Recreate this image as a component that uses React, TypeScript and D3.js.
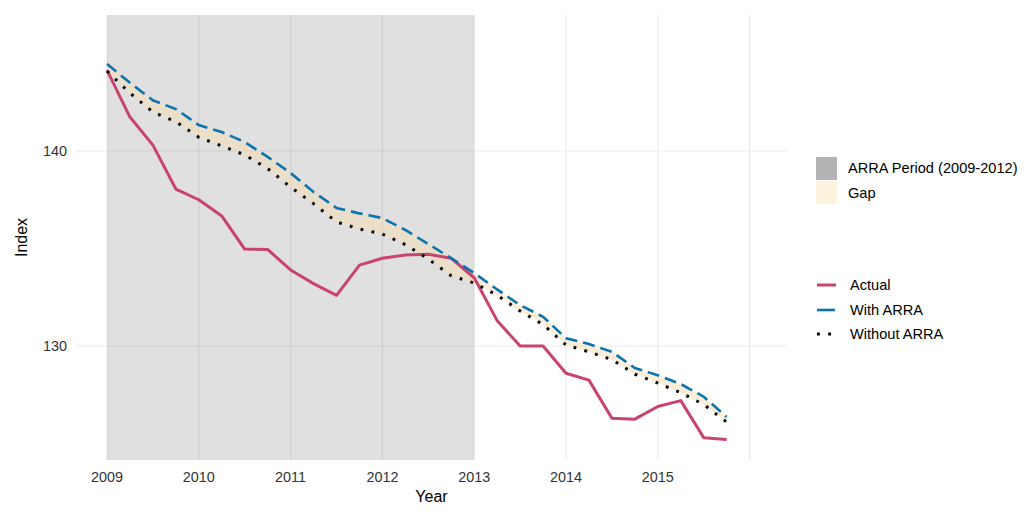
import React from "react";
import * as d3 from "d3";

const quarters: number[] = [
  2009, 2009.25, 2009.5, 2009.75, 2010, 2010.25, 2010.5, 2010.75,
  2011, 2011.25, 2011.5, 2011.75, 2012, 2012.25, 2012.5, 2012.75,
  2013, 2013.25, 2013.5, 2013.75, 2014, 2014.25, 2014.5, 2014.75,
  2015, 2015.25, 2015.5, 2015.75,
];
const actual: number[] = [
  144.15, 141.74, 140.3, 138.05, 137.5, 136.67, 134.97, 134.95,
  133.9, 133.2, 132.6, 134.15, 134.5, 134.67, 134.7, 134.5,
  133.5, 131.3, 130.0, 130.0, 128.6, 128.25, 126.3, 126.25,
  126.9, 127.2, 125.3, 125.2,
];
const withArra: number[] = [
  144.46, 143.5, 142.6, 142.15, 141.33, 140.97, 140.46, 139.7,
  138.87, 137.9, 137.08, 136.8, 136.56, 135.95, 135.23, 134.5,
  133.74, 132.9, 132.1, 131.5, 130.4, 130.1, 129.7, 128.87,
  128.5, 128.05, 127.4, 126.36,
];
const withoutArra: number[] = [
  144.1, 142.97, 142.0, 141.5, 140.7, 140.26, 139.8, 139.1,
  138.15, 137.3, 136.36, 136.0, 135.74, 135.2, 134.46, 133.6,
  133.23, 132.6, 131.8, 131.1, 130.05, 129.7, 129.3, 128.56,
  128.1, 127.6, 127.0, 126.1,
];
const xTicks: number[] = [2009, 2010, 2011, 2012, 2013, 2014, 2015];
const xGrid: number[] = [2009, 2010, 2011, 2012, 2013, 2014, 2015, 2016];
const yTicks: number[] = [130, 140];
const arraPeriod: number[] = [2009, 2013];

const FONT = "'Liberation Sans', Arial, Helvetica, sans-serif";

export default function App() {
  const W = 1024, H = 513;
  const left = 76, right = 787, top = 15, bottom = 460;
  const x = d3.scaleLinear().domain([2008.6623, 2016.4074]).range([left, right]);
  const y = d3.scaleLinear().domain([124.154, 146.974]).range([bottom, top]);

  const idx = quarters.map((_, i) => i);
  const lineGen = (vals: number[]) =>
    d3.line<number>().x((i) => x(quarters[i])).y((i) => y(vals[i]))(idx) || "";
  const ribbon =
    d3
      .area<number>()
      .x((i) => x(quarters[i]))
      .y0((i) => y(withoutArra[i]))
      .y1((i) => y(withArra[i]))(idx) || "";

  const gridColor = "#ebebeb";
  const red = "#C8436E";
  const blue = "#0A74B0";

  return (
    <svg
      width={W}
      height={H}
      style={{ position: "absolute", left: 0, top: 0, background: "#fff" }}
      fontFamily={FONT}
    >
      <rect x={0} y={0} width={W} height={H} fill="#fff" />
      {yTicks.map((t) => (
        <line key={"hy" + t} x1={left} x2={right} y1={y(t)} y2={y(t)} stroke={gridColor} strokeWidth={1.1} />
      ))}
      {xGrid.map((t) => (
        <line key={"vx" + t} x1={x(t)} x2={x(t)} y1={top} y2={bottom} stroke={gridColor} strokeWidth={1.1} />
      ))}
      <rect
        x={x(arraPeriod[0])}
        y={top}
        width={x(arraPeriod[1]) - x(arraPeriod[0])}
        height={bottom - top}
        fill="#000"
        fillOpacity={0.12}
      />
      <path d={ribbon} fill="#F5DEB3" fillOpacity={0.5} stroke="none" />
      <path d={lineGen(actual)} fill="none" stroke={red} strokeWidth={3} strokeLinejoin="round" />
      <path d={lineGen(withArra)} fill="none" stroke={blue} strokeWidth={2.6} strokeDasharray="12 6" />
      <path d={lineGen(withoutArra)} fill="none" stroke="#000" strokeWidth={3} strokeDasharray="2.8 8.4" />

      {xTicks.map((t) => (
        <text key={"xt" + t} x={x(t)} y={482} textAnchor="middle" fontSize={14.4} fill="#333">
          {t}
        </text>
      ))}
      {yTicks.map((t) => (
        <text key={"yt" + t} x={67} y={y(t) + 5} textAnchor="end" fontSize={14.4} fill="#333">
          {t}
        </text>
      ))}
      <text x={(left + right) / 2} y={502} textAnchor="middle" fontSize={16} fill="#000">
        Year
      </text>
      <text
        transform={`translate(27, ${(top + bottom) / 2}) rotate(-90)`}
        textAnchor="middle"
        fontSize={16}
        fill="#000"
      >
        Index
      </text>

      <rect x={816} y={157} width={21} height={23} fill="#b3b3b3" />
      <rect x={816} y={181} width={21} height={23} fill="#fdf2dc" />
      <text x={848} y={173} fontSize={14.6} fill="#000">ARRA Period (2009-2012)</text>
      <text x={848} y={198} fontSize={14.6} fill="#000">Gap</text>

      <line x1={817} x2={836} y1={285} y2={285} stroke={red} strokeWidth={3} />
      <line x1={817} x2={835} y1={310} y2={310} stroke={blue} strokeWidth={2.6} />
      <line x1={817} x2={836} y1={334} y2={334} stroke="#000" strokeWidth={3} strokeDasharray="2.8 8.4" />
      <text x={850} y={290} fontSize={14.6} fill="#000">Actual</text>
      <text x={850} y={315} fontSize={14.6} fill="#000">With ARRA</text>
      <text x={850} y={339} fontSize={14.6} fill="#000">Without ARRA</text>
    </svg>
  );
}
